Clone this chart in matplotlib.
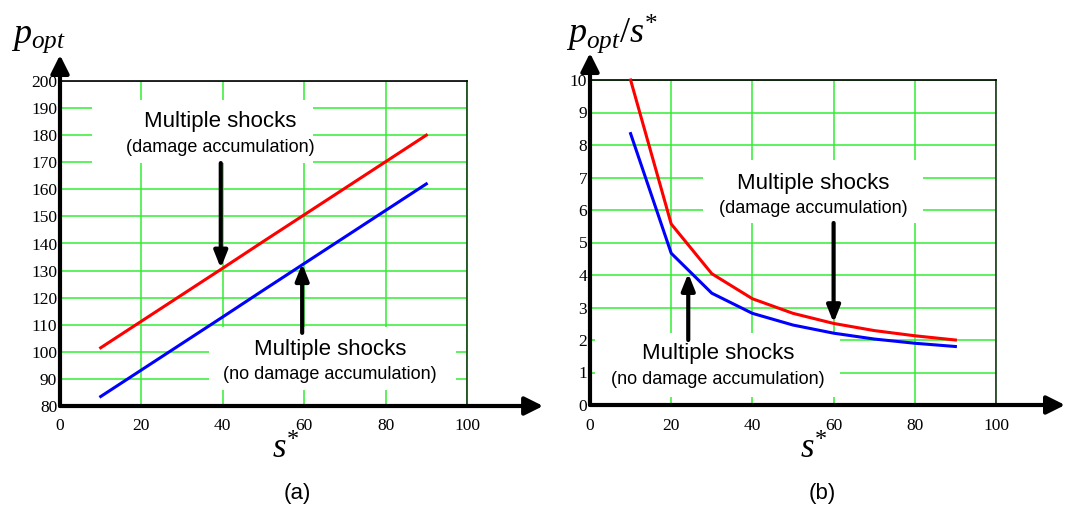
import numpy as np
import matplotlib.pyplot as plt
from matplotlib.patches import Rectangle

plt.rcParams['mathtext.fontset'] = 'custom'
plt.rcParams['mathtext.rm'] = 'Liberation Serif'
plt.rcParams['mathtext.it'] = 'Liberation Serif:italic'

# shock threshold s*
s = [10, 20, 30, 40, 50, 60, 70, 80, 90]

# (a) optimal p
p_damage = [101.5, 111.3, 121.1, 130.9, 140.8, 150.6, 160.4, 170.2, 180.0]
p_nodamage = [83.5, 93.3, 103.1, 112.9, 122.8, 132.6, 142.4, 152.2, 162.0]

# (b) optimal p divided by s*
r_damage = [10.0, 5.57, 4.04, 3.27, 2.82, 2.51, 2.29, 2.13, 2.00]
r_nodamage = [8.35, 4.67, 3.44, 2.82, 2.46, 2.21, 2.03, 1.90, 1.80]

xticks = [0, 20, 40, 60, 80, 100]
yticks_a = list(range(80, 201, 10))
yticks_b = list(range(0, 11))

GREEN = '#33ee33'
W, H = 1068, 518

fig = plt.figure(figsize=(10.68, 5.18), dpi=100)


def px_axes(x0, x1, y0, y1):
    # axes placed by pixel edges (y measured from top)
    return fig.add_axes([x0 / W, 1 - y1 / H, (x1 - x0) / W, (y1 - y0) / H])


def setup(ax, ymin, ymax, yticks, xend, yend):
    ax.set_xlim(0, 100)
    ax.set_ylim(ymin, ymax)
    ax.set_xticks(xticks)
    ax.set_yticks(yticks)
    ax.tick_params(length=0, labelsize=12.5)
    ax.tick_params(axis='x', pad=9)
    ax.tick_params(axis='y', pad=2)
    for lab in ax.get_xticklabels() + ax.get_yticklabels():
        lab.set_fontfamily('Liberation Serif')
    ax.grid(True, color=GREEN, lw=1.1, zorder=0)
    ax.set_axisbelow(True)
    ax.spines['left'].set_visible(False)
    ax.spines['bottom'].set_visible(False)
    ax.spines['top'].set_color('black')
    ax.spines['right'].set_color('#1a3a1a')
    ax.spines['top'].set_linewidth(1.2)
    ax.spines['right'].set_linewidth(1.2)
    arrow = dict(arrowstyle='-|>,head_length=0.5,head_width=0.25', lw=3,
                 color='black', mutation_scale=22, shrinkA=0, shrinkB=0)
    ax.annotate('', xy=(xend, ymin), xytext=(0, ymin), arrowprops=arrow,
                annotation_clip=False, zorder=6)
    ax.annotate('', xy=(0, yend), xytext=(0, ymin), arrowprops=arrow,
                annotation_clip=False, zorder=6)


def label_box(ax, x0, x1, y0, y1, xc, ym, ys, sub):
    ax.add_patch(Rectangle((x0, y0), x1 - x0, y1 - y0, facecolor='white',
                           edgecolor='none', zorder=1))
    ax.text(xc, ym, 'Multiple shocks', ha='center', va='center',
            fontsize=16, family='Liberation Sans', zorder=4)
    ax.text(xc, ys, sub, ha='center', va='center',
            fontsize=13, family='Liberation Sans', zorder=4)


def pointer(ax, x, ytail, ytip):
    ax.annotate('', xy=(x, ytip), xytext=(x, ytail),
                arrowprops=dict(arrowstyle='-|>,head_length=0.5,head_width=0.2',
                                lw=3, color='black', mutation_scale=20,
                                shrinkA=0, shrinkB=0),
                zorder=5)


# ---- (a) ----
ax1 = px_axes(60, 467, 81, 406)
setup(ax1, 80, 200, yticks_a, 118.7, 209.6)
ax1.plot(s, p_damage, color='red', lw=2.2, zorder=3, clip_on=False)
ax1.plot(s, p_nodamage, color='blue', lw=2.2, zorder=3, clip_on=False)
label_box(ax1, 7.9, 62.2, 169.7, 193.0, 39.3, 185.2, 175.6, '(damage accumulation)')
label_box(ax1, 36.6, 97.3, 86.0, 109.2, 66.3, 100.7, 91.5, '(no damage accumulation)')
pointer(ax1, 39.5, 169.7, 130.9)
pointer(ax1, 59.5, 107.0, 132.6)

# ---- (b) ----
ax2 = px_axes(590, 996, 80, 405)
setup(ax2, 0, 10, yticks_b, 117.0, 10.83)
ax2.plot(s, r_damage, color='red', lw=2.2, zorder=3, clip_on=False)
ax2.plot(s, r_nodamage, color='blue', lw=2.2, zorder=3, clip_on=False)
label_box(ax2, 27.8, 82.0, 5.6, 7.54, 54.9, 6.83, 6.06, '(damage accumulation)')
label_box(ax2, 1.2, 61.6, 0.25, 2.22, 31.5, 1.6, 0.77, '(no damage accumulation)')
pointer(ax2, 60, 5.6, 2.53)
pointer(ax2, 24.2, 2.0, 4.05)

# axis titles
fig.text(38 / W, 1 - 38 / H, r'$p_{opt}$', fontsize=26, ha='center', va='center')
fig.text(612 / W, 1 - 34 / H, r'$p_{opt}/s^{*}$', fontsize=26, ha='center', va='center')
fig.text(286 / W, 1 - 448 / H, r'$s^{*}$', fontsize=25, ha='center', va='center')
fig.text(814 / W, 1 - 448 / H, r'$s^{*}$', fontsize=25, ha='center', va='center')
fig.text(297 / W, 1 - 494 / H, '(a)', fontsize=16, family='Liberation Sans',
         ha='center', va='center')
fig.text(822 / W, 1 - 494 / H, '(b)', fontsize=16, family='Liberation Sans',
         ha='center', va='center')

fig.savefig('out.png', dpi=100)
